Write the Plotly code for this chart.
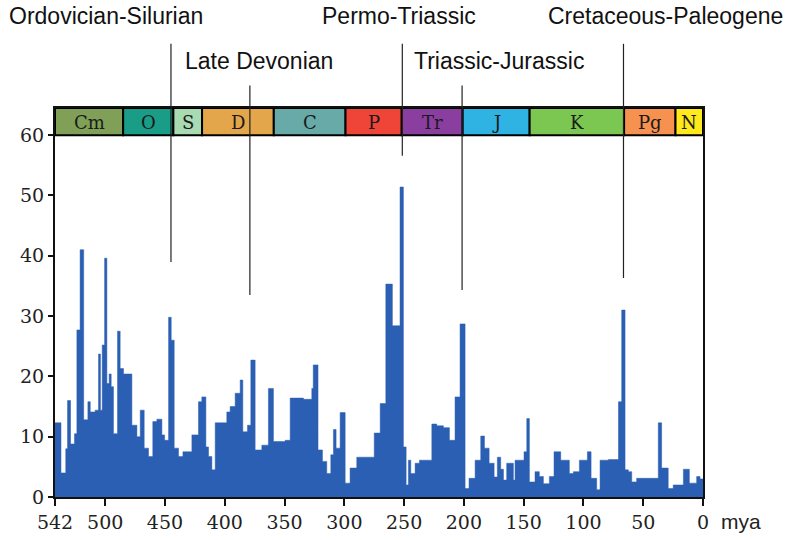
import plotly.graph_objects as go

# ---------------- data ----------------
# start (older edge, mya) of each interval, and % of genera going extinct in it
interval_start_mya = [
    542, 537, 533, 531.5, 529, 525.7, 523.7, 521, 518, 514.5, 512.5, 508.4, 505.6,
    504, 502.5, 500.5, 498.6, 496.7, 495, 493.1, 489.7, 487.5, 484.7, 477.7, 473.5,
    470.7, 467.4, 463.8, 460.2, 456.8, 452.6, 450.3, 447, 444.8, 442.3, 438.7, 435,
    427.5, 422, 419.2, 415.8, 413.6, 410.8, 408, 398.3, 395.5, 391.3, 387.1, 384.9,
    381, 378.2, 374.6, 369, 363.5, 359.3, 349.5, 345.3, 334.2, 327.2, 326, 322,
    318.3, 314.7, 311.3, 309.1, 306.9, 303.5, 299.3, 295.2, 289.6, 275, 270, 265.3,
    259.8, 253.4, 250.6, 248.3, 246.4, 244.4, 240.8, 237.2, 226.8, 222.7, 217.1,
    212.1, 207.4, 203.2, 199, 195.7, 190.6, 185.9, 182.8, 178.9, 174.7, 172, 169.2,
    166.9, 164.2, 158.6, 157.2, 149.7, 147.4, 145.2, 140.5, 136.9, 133.5, 128.5,
    124.6, 119, 111.8, 108.4, 103.4, 96.7, 93.6, 88.9, 86.1, 79.2, 70.7, 68, 65.2,
    62.4, 59.6, 55.5, 37.4, 34.6, 29.1, 24.9, 16.4, 11.4, 5.3, 2.5,
]
extinction_pct = [
    12.3, 4.0, 8.0, 16.0, 8.8, 10.5, 27.7, 41.0, 12.8, 15.8, 14.1, 14.4, 23.7,
    14.4, 25.2, 39.6, 18.8, 20.4, 18.3, 10.5, 27.5, 21.3, 20.4, 11.9, 10.0,
    14.4, 8.1, 6.7, 12.5, 12.9, 10.3, 9.4, 29.8, 26.0, 8.1, 6.7, 7.5,
    10.3, 15.8, 16.6, 8.3, 6.7, 4.5, 12.3, 14.1, 15.0, 17.2, 19.4, 10.8,
    11.9, 22.7, 7.8, 8.6, 18.0, 9.2, 9.4, 16.4, 16.2, 18.0, 21.9, 7.8,
    5.9, 3.9, 7.0, 11.2, 8.1, 14.0, 2.3, 4.8, 6.6, 10.6, 15.5, 35.3,
    28.4, 51.4, 8.3, 2.0, 6.1, 3.9, 5.6, 6.1, 12.1, 11.8, 11.5,
    9.4, 16.6, 28.7, 1.4, 3.1, 6.1, 10.1, 8.1, 5.6, 3.3, 6.6, 4.6,
    2.8, 5.6, 2.8, 6.1, 7.5, 13.0, 2.5, 4.2, 3.4, 2.2,
    3.4, 7.5, 6.1, 3.9, 4.2, 6.1, 7.5, 3.1, 1.2, 6.1, 6.2, 15.8, 31.0,
    4.5, 4.2, 2.5, 3.1, 12.3, 4.8, 1.4, 2.0, 4.6, 2.3, 3.4, 3.0,
]

period_names = ["Cm", "O", "S", "D", "C", "P", "Tr", "J", "K", "Pg", "N"]
period_start = [542, 485, 443, 419, 359, 299, 252, 201, 145, 66, 23]
period_end = [485, 443, 419, 359, 299, 252, 201, 145, 66, 23, 0]

event_names = ["Ordovician-Silurian", "Late Devonian", "Permo-Triassic",
               "Triassic-Jurassic", "Cretaceous-Paleogene"]
event_mya = [445, 379, 251.5, 201.5, 66.5]

x_tick_vals = [542, 500, 450, 400, 350, 300, 250, 200, 150, 100, 50, 0]
x_tick_text = ["542", "500", "450", "400", "350", "300", "250", "200", "150", "100", "50", "0"]
y_tick_vals = [0, 10, 20, 30, 40, 50, 60]

# ---------------- styles ----------------
period_colors = ["#7fa056", "#1a9d86", "#a8dbb2", "#e3a64a", "#67aaa8", "#ef4438",
                 "#8a3ea0", "#2fb3e3", "#7cc652", "#f7914f", "#ffe81c"]
bar_color = "#2a5fb3"
# label text placement (pixel x of centre, paper y), line tops/bottoms (paper y)
event_label_pos = [(106, 1.236), (259, 1.12), (399, 1.236), (499, 1.12), (665, 1.236)]
event_line_y = [(1.165, 0.604), (1.058, 0.519), (1.165, 0.877), (1.058, 0.532), (1.165, 0.563)]

L, R, T, B = 55, 88, 108, 43
W, H = 791, 540
pw = W - L - R

x_edges = interval_start_mya + [0]
y_vals = extinction_pct + [extinction_pct[-1]]

fig = go.Figure()
fig.add_trace(go.Scatter(
    x=x_edges, y=y_vals, mode="lines", line=dict(shape="hv", width=0.5, color=bar_color),
    fill="tozeroy", fillcolor=bar_color, hoverinfo="skip", showlegend=False,
))

shapes = []
annotations = []
for name, s, e, c in zip(period_names, period_start, period_end, period_colors):
    shapes.append(dict(type="rect", xref="x", yref="y", x0=s, x1=e, y0=60, y1=64.5,
                       fillcolor=c, line=dict(color="black", width=2), layer="above"))
    annotations.append(dict(x=(s + e) / 2, y=62.1, xref="x", yref="y", text=name,
                            showarrow=False,
                            font=dict(family="DejaVu Serif", size=18, color="#1a1a1a")))

for name, m, (px, py), (ly0, ly1) in zip(event_names, event_mya, event_label_pos, event_line_y):
    shapes.append(dict(type="line", xref="x", yref="paper", x0=m, x1=m, y0=ly0, y1=ly1,
                       line=dict(color="#222222", width=1.2), layer="above"))
    annotations.append(dict(x=(px - L) / pw, y=py, xref="paper", yref="paper", text=name,
                            showarrow=False, xanchor="center", yanchor="middle",
                            font=dict(family="Liberation Sans, Arial", size=23, color="#111111")))

annotations.append(dict(x=(741 - L) / pw, y=-0.062, xref="paper", yref="paper", text="mya",
                        showarrow=False, xanchor="center", yanchor="middle",
                        font=dict(family="Liberation Sans, Arial", size=21, color="#222222")))

fig.update_layout(
    width=W, height=H, margin=dict(l=L, r=R, t=T, b=B, pad=0, autoexpand=False),
    paper_bgcolor="white", plot_bgcolor="white",
    shapes=shapes, annotations=annotations,
    xaxis=dict(range=[542, 0], tickvals=x_tick_vals, ticktext=x_tick_text,
               automargin=False,
               showgrid=False, zeroline=False, showline=True, mirror=True,
               linecolor="#111111", linewidth=2, ticks="outside", ticklen=7,
               tickwidth=2, tickcolor="#111111",
               tickfont=dict(family="DejaVu Serif", size=19, color="#222222")),
    yaxis=dict(range=[0, 64.5], tickvals=y_tick_vals, showgrid=False, zeroline=False,
               automargin=False,
               showline=True, mirror=True, linecolor="#111111", linewidth=2,
               ticks="outside", ticklen=5, tickwidth=2, tickcolor="#111111",
               tickfont=dict(family="DejaVu Serif", size=19, color="#222222")),
)

fig.write_html("out.html")
